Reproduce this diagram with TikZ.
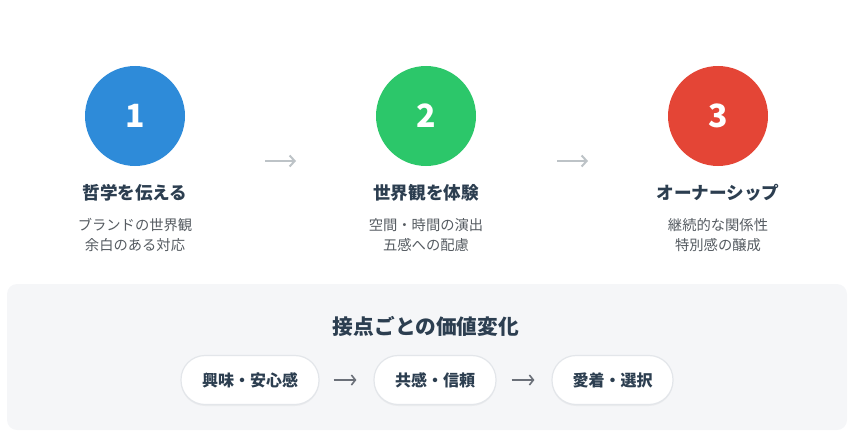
\documentclass[tikz,border=0pt]{standalone}
\usepackage{fontspec}
\setmainfont{Noto Sans CJK JP}
\usetikzlibrary{arrows.meta,shadows,positioning}
\definecolor{stepblue}{HTML}{2E8BD9}
\definecolor{stepgreen}{HTML}{2CC76A}
\definecolor{stepred}{HTML}{E44536}
\definecolor{navy}{HTML}{2C3E50}
\definecolor{subgray}{HTML}{555B61}
\definecolor{panelbg}{HTML}{F5F6F8}
\definecolor{pillline}{HTML}{E3E6EA}
\definecolor{lightarrow}{HTML}{BDC3C7}
\definecolor{darkarrow}{HTML}{6B7079}
\tikzset{
  stepcircle/.style={circle,minimum size=100pt,inner sep=0pt,text=white,
    font=\fontsize{32}{32}\selectfont\bfseries},
  steptitle/.style={text=navy,font=\fontsize{17.6}{19}\selectfont\bfseries},
  stepnote/.style={text=subgray,align=center,font=\fontsize{14.3}{20}\selectfont},
  pill/.style={rounded corners=24pt,minimum height=49pt,fill=white,draw=pillline,
    line width=1.2pt,text=navy,font=\fontsize{16}{16}\selectfont\bfseries,
    drop shadow={shadow xshift=0pt,shadow yshift=-1.5pt,opacity=.08}},
  toparrow/.style={-{Straight Barb[length=5pt,width=11pt]},draw=lightarrow,line width=2pt},
  botarrow/.style={-{Straight Barb[length=4pt,width=10pt]},draw=darkarrow,line width=1.6pt}
}
\begin{document}
\begin{tikzpicture}[x=1pt,y=-1pt]
\useasboundingbox (0,0) rectangle (856,444);

% three steps
\node[stepcircle,fill=stepblue] (c1) at (135,116) {1};
\node[stepcircle,fill=stepgreen] (c2) at (426,116) {2};
\node[stepcircle,fill=stepred] (c3) at (718,116) {3};

\node[steptitle] (t1) at (135,193) {哲学を伝える};
\node[steptitle] (t2) at (426,193) {世界観を体験};
\node[steptitle] (t3) at (718,193) {オーナーシップ};

\node[stepnote] (n1) at (135,235) {ブランドの世界観\\余白のある対応};
\node[stepnote] (n2) at (426,235) {空間・時間の演出\\五感への配慮};
\node[stepnote] (n3) at (718,235) {継続的な関係性\\特別感の醸成};

\coordinate (a1s) at (265,161); \coordinate (a1e) at (296,161);
\coordinate (a2s) at (557,161); \coordinate (a2e) at (588,161);
\draw[toparrow] (a1s) -- (a1e);
\draw[toparrow] (a2s) -- (a2e);

% value panel
\fill[panelbg,rounded corners=10pt] (7,284) rectangle (847,430);
\node[text=navy,font=\fontsize{20.7}{21}\selectfont\bfseries] (vt) at (426,326) {接点ごとの価値変化};

\node[pill,minimum width=138pt] (p1) at (250,380) {興味・安心感};
\node[pill,minimum width=122pt] (p2) at (435,380) {共感・信頼};
\node[pill,minimum width=121pt] (p3) at (612.5,380) {愛着・選択};

\draw[botarrow] ([xshift=14pt]p1.east) -- ([xshift=-17pt]p2.west);
\draw[botarrow] ([xshift=15pt]p2.east) -- ([xshift=-17pt]p3.west);

\end{tikzpicture}
\end{document}
